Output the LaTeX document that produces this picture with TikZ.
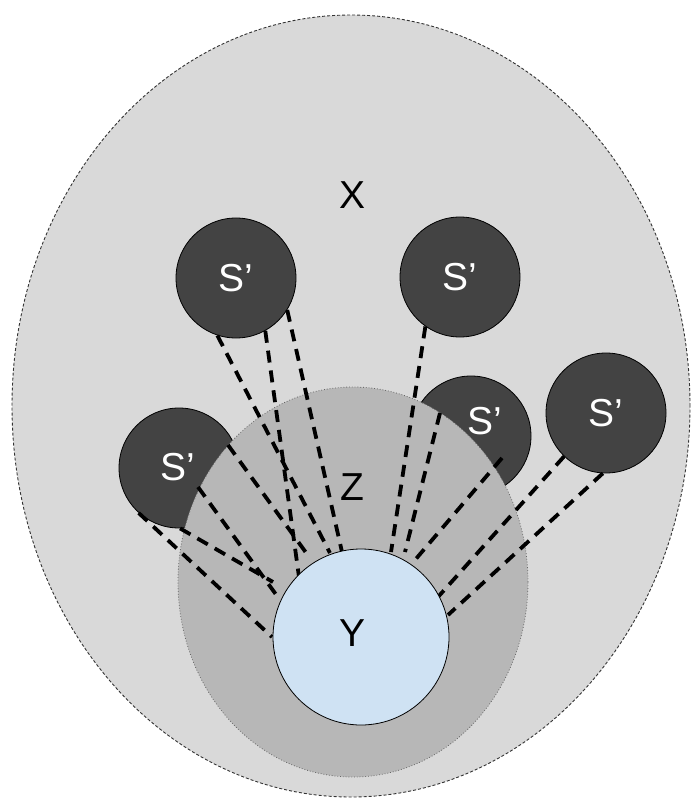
\documentclass[tikz,border=0pt]{standalone}
\usepackage{fontspec}
\setmainfont{Liberation Sans}
\usetikzlibrary{shapes.geometric}
\definecolor{xgray}{HTML}{D9D9D9}
\definecolor{zgray}{HTML}{B7B7B7}
\definecolor{sgray}{HTML}{434343}
\definecolor{yblue}{HTML}{CFE2F3}
\begin{document}
\begin{tikzpicture}[x=1pt,y=-1pt,
  bigfont/.style={font=\fontsize{39}{41}\selectfont},
  sp/.style={circle, draw=black, line width=0.8pt, fill=sgray, minimum size=120pt, inner sep=0pt},
  splab/.style={bigfont, text=white, inner sep=0pt},
  lab/.style={bigfont, text=black, inner sep=0pt},
  link/.style={line width=3.8pt, dash pattern=on 12pt off 8pt},
  ]
\useasboundingbox (0,0) rectangle (691,799);
% X region
\node[draw=black!80, fill=xgray, dash pattern=on 3pt off 2pt, line width=0.9pt,
      ellipse, minimum width=678pt, minimum height=782pt, inner sep=0pt] (X) at (351,406) {};
\node[lab] (xl) at (352,195) {X};
% S' circles
\node[sp] (s1) at (236,278) {};
\node[sp] (s2) at (460,277) {};
\node[sp] (s3) at (179,468) {};
\node[sp] (s4) at (471,436) {};
\node[sp] (s5) at (606,413) {};
% Z region
\node[draw=black!60, fill=zgray, dotted, line width=0.8pt,
      ellipse, minimum width=350pt, minimum height=390pt, inner sep=0pt] (Z) at (353,582) {};
\node[lab] (zl) at (352,487) {Z};
% labels of S'
\node[splab] (l1) at (236,278) {S’};
\node[splab] (l2) at (460,277) {S’};
\node[splab] (l3) at (178,467) {S’};
\node[splab] (l4) at (485,421) {S’};
\node[splab] (l5) at (606,413) {S’};
% start / end points of links
\coordinate (c3d) at (198,487);
\coordinate (c3c) at (228,445);
\coordinate (c4a) at (440,413);
\coordinate (c4b) at (502,458);
\coordinate (e1a) at (330,553);
\coordinate (e1b) at (299,577);
\coordinate (e1c) at (342,552);
\coordinate (e3a) at (272,637);
\coordinate (e3b) at (273,582);
\coordinate (e3d) at (280,600);
\coordinate (e3c) at (307,554);
\coordinate (e2a) at (391,552);
\coordinate (e4a) at (405,552);
\coordinate (e4b) at (415,560);
\coordinate (e5a) at (438,597);
\coordinate (e5b) at (448,615);
% links
\draw[link] (s1.252) -- (e1a);
\draw[link] (s1.299) -- (e1b);
\draw[link] (s1.328) -- (e1c);
\draw[link] (s3.228) -- (e3a);
\draw[link] (s3.271) -- (e3b);
\draw[link] (c3d) -- (e3d);
\draw[link] (c3c) -- (e3c);
\draw[link] (s2.235) -- (e2a);
\draw[link] (c4a) -- (e4a);
\draw[link] (c4b) -- (e4b);
\draw[link] (s5.226) -- (e5a);
\draw[link] (s5.267) -- (e5b);
% Y
\node[circle, draw=black, line width=0.8pt, fill=yblue, minimum size=176pt, inner sep=0pt] (Y) at (361,637) {};
\node[lab] (yl) at (352,633) {Y};
\end{tikzpicture}
\end{document}
